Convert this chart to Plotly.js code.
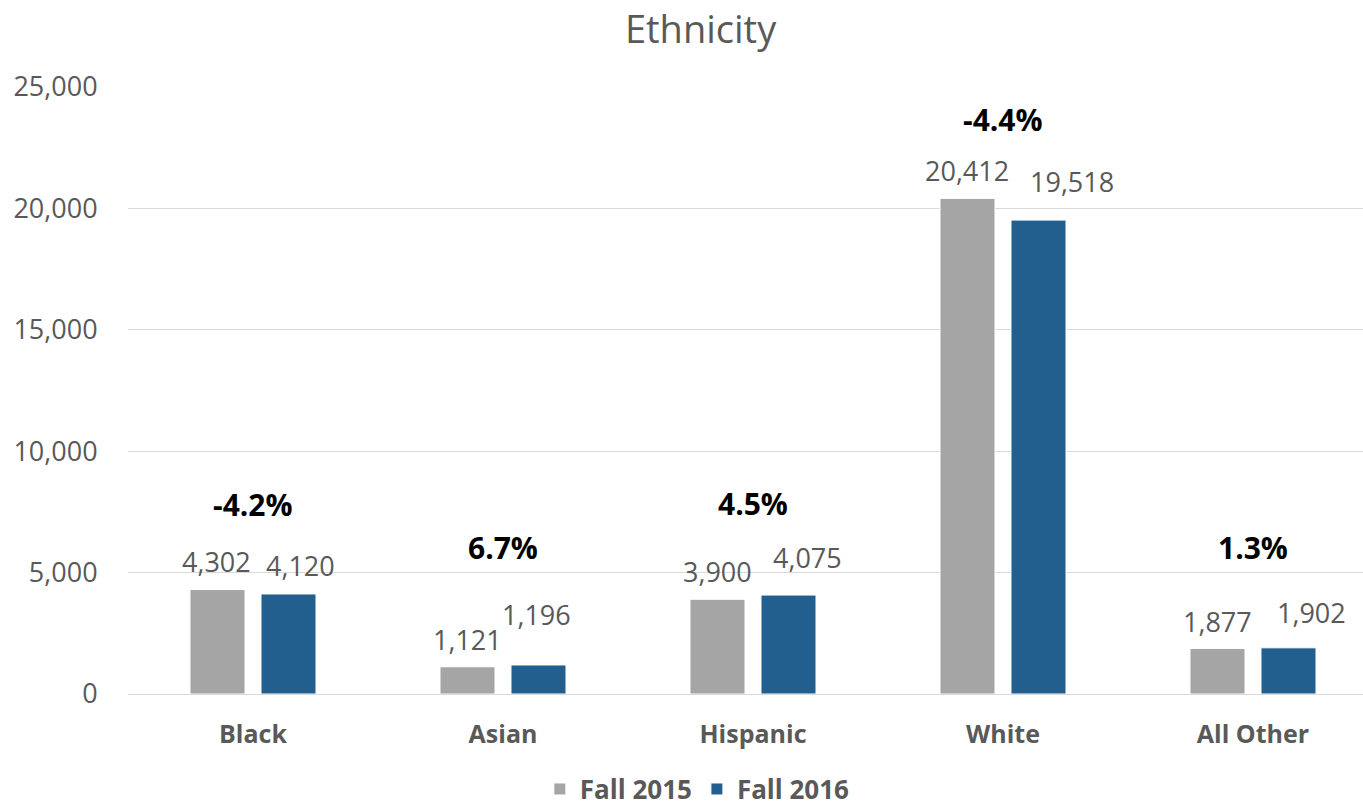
<!DOCTYPE html>
<html><head><meta charset="utf-8">
<script src="https://cdn.plot.ly/plotly-3.0.1.min.js"></script>
<style>html,body{margin:0;padding:0;background:#fff}#chart{width:1363px;height:806px}</style>
</head><body><div id="chart"></div>
<script>
// ---- data ----
const categories = ['Black','Asian','Hispanic','White','All Other'];
const fall2015 = [4302, 1121, 3900, 20412, 1877];
const fall2016 = [4120, 1196, 4075, 19518, 1902];
const changeLabels = ['-4.2%','6.7%','4.5%','-4.4%','1.3%'];

// ---- label placement (positions only, in px / axis units) ----
const changeLabelY = [7800, 6050, 7850, 23680, 6050];
const barOffsetPx = 35.5;
const label2015Dx = [-1.5, -0.5, -0.5, -1, -0.5];
const label2015Dy = [28, 27, 28, 28, 27];
const label2016Dx = [12, -2.5, 18.5, 33.5, 22.5];
const label2016Dy = [28, 50, 38, 39, 35];

const fmt = v => v.toLocaleString('en-US');
const font = '"Open Sans", "Liberation Sans", sans-serif';
const labelFont = {size:27, color:'#595959', family:font};

const traces = [
  {type:'bar', name:'Fall 2015', x:categories, y:fall2015,
   marker:{color:'#a5a5a5', line:{color:'#ffffff', width:1}}},
  {type:'bar', name:'Fall 2016', x:categories, y:fall2016,
   marker:{color:'#225e8e', line:{color:'#ffffff', width:1}}}
];

const annotations = [];
categories.forEach((c,i)=>{
  annotations.push({x:c, y:changeLabelY[i], xref:'x', yref:'y', text:'<b>'+changeLabels[i]+'</b>',
    showarrow:false, font:{size:30,color:'#000000',family:font}});
  annotations.push({x:c, y:fall2015[i], xref:'x', yref:'y', text:fmt(fall2015[i]),
    showarrow:false, xanchor:'center', yanchor:'middle',
    xshift:-barOffsetPx + label2015Dx[i], yshift:label2015Dy[i], font:labelFont});
  annotations.push({x:c, y:fall2016[i], xref:'x', yref:'y', text:fmt(fall2016[i]),
    showarrow:false, xanchor:'center', yanchor:'middle',
    xshift:barOffsetPx + label2016Dx[i], yshift:label2016Dy[i], font:labelFont});
});

const layout = {
  width:1363, height:806,
  margin:{l:128, r:0, t:87, b:112, autoexpand:false},
  paper_bgcolor:'#ffffff', plot_bgcolor:'#ffffff',
  font:{family:font, color:'#595959'},
  title:{text:'Ethnicity', x:0.514, xref:'container', y:0.963, yref:'container', yanchor:'middle',
         font:{size:38, color:'#595959', family:font}},
  barmode:'group', bargap:0.432, bargroupgap:0.225,
  xaxis:{range:[-0.5,4.44], showgrid:false, zeroline:false, showline:false,
         tickfont:{size:25, color:'#595959', family:font},
         tickvals:categories, ticktext:categories.map(c=>'<b>'+c+'</b>'),
         ticks:'outside', ticklen:18, tickcolor:'rgba(0,0,0,0)'},
  yaxis:{range:[0,25000], dtick:5000, tickformat:',d', showgrid:true, gridcolor:'#d9d9d9', gridwidth:1,
         zeroline:true, zerolinecolor:'#d9d9d9', zerolinewidth:1, showline:false,
         tickfont:{size:27, color:'#595959', family:font},
         ticks:'outside', ticklen:24, tickcolor:'rgba(0,0,0,0)'},
  legend:{orientation:'h', x:0.461, xanchor:'center', y:0.021, yref:'container', yanchor:'middle',
          font:{size:26, color:'#595959', family:font, weight:'bold'}, itemwidth:30},
  annotations:annotations,
  showlegend:true
};

Plotly.newPlot('chart', traces, layout, {displayModeBar:false, staticPlot:true});
</script></body></html>
